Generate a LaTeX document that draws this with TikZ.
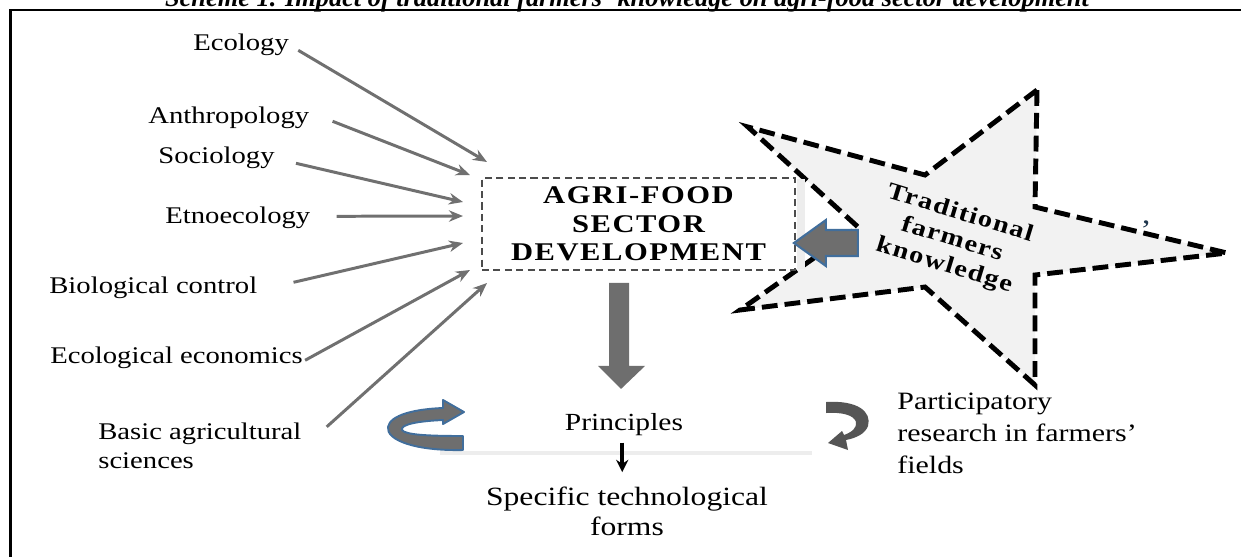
\documentclass[tikz,border=0pt]{standalone}
\usepackage{fontspec}
\setmainfont{Liberation Serif}[FakeStretch=1.2]
\newfontfamily\boxfont{Liberation Serif}[FakeStretch=1.2,LetterSpace=6]
\newfontfamily\titlefont{Liberation Serif}
\usetikzlibrary{arrows.meta,positioning,calc}
\definecolor{arrgray}{RGB}{112,112,112}
\definecolor{blockgray}{RGB}{110,110,110}
\definecolor{curlgray}{RGB}{85,85,85}
\definecolor{edgeblue}{RGB}{65,110,156}
\definecolor{starfill}{RGB}{242,242,242}

\begin{document}
\begin{tikzpicture}[x=0.02cm, y=-0.02cm,
    lbl/.style={inner sep=0pt, font=\fontsize{13.6}{17}\selectfont},
    inarr/.style={draw=arrgray, line width=1.7pt, -{Stealth[length=8pt,width=6.5pt]}},
    starline/.style={draw=black, line width=2.8pt, dash pattern=on 9pt off 4pt,
                fill=starfill, line join=miter},
    blockarr/.style={fill=blockgray}
  ]
    \useasboundingbox (0,0) rectangle (1241,556);
    \clip (0,0) rectangle (1241,556);

    % Frame and caption
    \draw[line width=1.5pt] (10.5,600) |- (1300,10);
    \node[anchor=base, inner sep=0pt, font=\fontsize{15}{17}\titlefont\bfseries\itshape] (title)
      at (627,6) {Scheme 1. Impact of traditional farmers’ knowledge on agri-food sector development};

    % Faint rule behind principles
    \draw[black!7, line width=2.2pt] (440,453) -- (812,453);

    % Star
    \draw[starline] (1037,90) -- (1035,207) -- (1227,253) -- (1035,275) -- (1035,385)
      -- (925,287) -- (740,310) -- (858,227) -- (748,127) -- (925,175) -- cycle;
    \node[rotate=-17, align=center, inner sep=0pt,
          font=\fontsize{13.5}{15.5}\boxfont\bfseries] (tfk) at (952,240)
      {Traditional\\farmers\\knowledge};
    \node[inner sep=0pt, font=\fontsize{16}{16}\selectfont, text=edgeblue!50!black] (quote)
      at (1146,230) {’};

    % Central box
    \node[draw=black!70, line width=1.1pt, dash pattern=on 4pt off 2.5pt, fill=white,
          minimum width=6.26cm, minimum height=1.84cm, align=center, inner sep=0pt,
          font=\fontsize{14.5}{16.2}\boxfont\bfseries] (agri) at (638.5,224)
      {AGRI-FOOD\\SECTOR\\DEVELOPMENT};
    \fill[black!7] ($(agri.north east)+(1,2)$) rectangle ($(agri.south east)+(9,-2)$);

    % Knowledge arrow into box
    \coordinate (kwtip) at ($(agri.east)+(-2,19)$);
    \draw[blockarr, draw=edgeblue, line width=1.2pt] (kwtip) -- ++(32,-23) -- ++(0,10)
      -- ++(32,0) -- ++(0,26) -- ++(-32,0) -- ++(0,10) -- cycle;

    % Disciplines
    \node[lbl, anchor=base west] (eco)    at (193,50)  {Ecology};
    \node[lbl, anchor=base west] (anthro) at (148,123) {Anthropology};
    \node[lbl, anchor=base west] (socio)  at (158,163) {Sociology};
    \node[lbl, anchor=base west] (etno)   at (165,223) {Etnoecology};
    \node[lbl, anchor=base west] (bio)    at (49,293)  {Biological control};
    \node[lbl, anchor=base west] (ecoeco) at (50,363)  {Ecological economics};
    \node[lbl, anchor=north west, align=left, font=\fontsize{13.6}{16}\selectfont] (basic)
      at (98,423) {Basic agricultural\\sciences};

    \coordinate (tEco)    at (487,162);
    \coordinate (tAnthro) at (470,175);
    \coordinate (tSocio)  at (463,202);
    \coordinate (tEtno)   at (463,216);
    \coordinate (tBio)    at (463,243);
    \coordinate (tEcoeco) at (470,270);
    \coordinate (tBasic)  at (487,283);

    \draw[inarr] ($(eco.east)+(9,6)$)     -- (tEco);
    \draw[inarr] ($(anthro.east)+(23,4)$) -- (tAnthro);
    \draw[inarr] ($(socio.east)+(21,6)$)  -- (tSocio);
    \draw[inarr] ($(etno.east)+(26,-1)$)  -- (tEtno);
    \draw[inarr] ($(bio.east)+(36,-5)$)   -- (tBio);
    \draw[inarr] ($(ecoeco.east)+(2,3)$)  -- (tEcoeco);
    \draw[inarr] ($(basic.east)+(25,-19)$) -- (tBasic);

    % Down arrow to principles
    \coordinate (dtop) at ($(agri.south)+(-19.5,12)$);
    \fill[blockarr] ($(dtop)+(-10,0)$) -- ++(20,0) -- ++(0,83) -- ++(16,0) -- ++(-24,23)
      -- ++(-23,-23) -- ++(11,0) -- cycle;

    \node[inner sep=0pt, anchor=base, font=\fontsize{14}{17}\selectfont] (princ)
      at (624,430) {Principles};
    \node[inner sep=0pt, anchor=north, align=center, font=\fontsize{15}{17}\selectfont] (spec)
      at (627,487) {Specific technological\\forms};
    \draw[line width=2pt, -{Stealth[length=7pt,width=7pt]}, shorten <=4pt, shorten >=8.5pt]
      ([xshift=-1pt]princ.south) -- ([xshift=-1pt]princ.south |- spec.north);

    % Feedback loops
    \draw[draw=edgeblue, line width=1.1pt, fill=blockgray, line join=round]
      (463,450) .. controls (415,451) and (386,440) .. (388,427)
      .. controls (390,415) and (415,409) .. (443,408) -- (443,400) -- (464,412)
      -- (443,424) -- (443,420) .. controls (420,421) and (400,424) .. (402,430)
      .. controls (405,435) and (430,436) .. (463,436) -- cycle;
    \fill[curlgray] (826,402) .. controls (858,400) and (872,412) .. (868,426)
      .. controls (865,434) and (856,438) .. (846,440) -- (848,450) -- (828,443)
      -- (842,431) -- (844,435) .. controls (852,432) and (857,428) .. (856,422)
      .. controls (854,415) and (842,412) .. (826,413) -- cycle;

    \node[inner sep=0pt, anchor=north west, align=left, font=\fontsize{14.2}{18}\selectfont] (partic)
      at (897,393) {Participatory\\research in farmers’\\fields};
  \end{tikzpicture}
\end{document}
